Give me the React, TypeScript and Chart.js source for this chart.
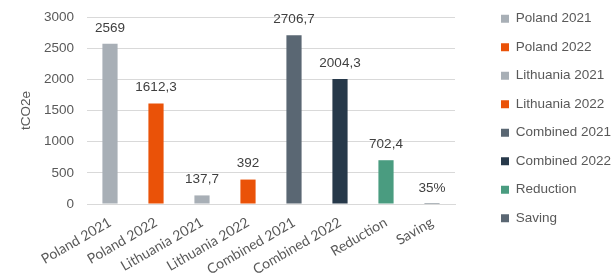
import React, { useEffect, useRef } from "react";
import { Chart, registerables } from "chart.js";

Chart.register(...registerables);

const categories = [
  "Poland 2021",
  "Poland 2022",
  "Lithuania 2021",
  "Lithuania 2022",
  "Combined 2021",
  "Combined 2022",
  "Reduction",
  "Saving",
];
const values = [2569, 1612.3, 137.7, 392, 2706.7, 2004.3, 702.4, 0.35];
const isPercent = [false, false, false, false, false, false, false, true];
const barColors = [
  "#a8afb6",
  "#ea5208",
  "#a8afb6",
  "#ea5208",
  "#5a6773",
  "#27394a",
  "#4a9c80",
  "#5a6773",
];
const yTicks = [0, 500, 1000, 1500, 2000, 2500, 3000];

const FONT = "'Liberation Sans', Arial, sans-serif";
const XFONT = "Lato, 'Open Sans', sans-serif";
const LEGEND_WIDTH = 157;
const LEGEND_LEFT = 486;
const LEGEND_TOP = -3;

const formatValue = (v: number, pct: boolean) =>
  pct ? `${Math.round(v * 100)}%` : String(v).replace(".", ",");

const valueLabelPlugin = {
  id: "valueLabels",
  afterDatasetsDraw(chart: any) {
    const ctx = chart.ctx;
    const meta = chart.getDatasetMeta(0);
    ctx.save();
    ctx.font = `13.5px ${FONT}`;
    ctx.fillStyle = "#404040";
    ctx.textAlign = "center";
    ctx.textBaseline = "middle";
    meta.data.forEach((bar: any, i: number) => {
      ctx.fillText(formatValue(values[i], isPercent[i]), bar.x, bar.y - 16);
    });
    ctx.restore();
  },
};

const legendSpacePlugin = {
  id: "legendSpace",
  beforeUpdate(chart: any) {
    const lg = chart.legend;
    if (lg && !lg._patched) {
      const f = lg.fit;
      lg.fit = function () {
        f.call(this);
        this.width = LEGEND_WIDTH;
      };
      lg._patched = true;
    }
  },
  afterLayout(chart: any) {
    const lg = chart.legend;
    if (lg) {
      const h = lg.bottom - lg.top;
      lg.left = LEGEND_LEFT;
      lg.right = LEGEND_LEFT + LEGEND_WIDTH;
      lg.top = LEGEND_TOP;
      lg.bottom = LEGEND_TOP + h;
    }
  },
};

export default function App() {
  const ref = useRef<HTMLCanvasElement>(null);
  useEffect(() => {
    if (!ref.current) return;
    const chart = new Chart(ref.current, {
      type: "bar",
      data: {
        labels: categories,
        datasets: [
          {
            data: values,
            backgroundColor: barColors,
            barPercentage: 0.33,
            categoryPercentage: 1,
          },
        ],
      },
      options: {
        animation: false,
        responsive: true,
        maintainAspectRatio: false,
        layout: { padding: { top: 17, left: 14, right: 0, bottom: 0 } },
        plugins: {
          tooltip: { enabled: false },
          legend: {
            position: "right",
            align: "start",
            labels: {
              font: { family: FONT, size: 13.5 },
              color: "#595959",
              boxWidth: 8,
              boxHeight: 8,
              padding: 15,
              generateLabels: () =>
                categories.map((c, i) => ({
                  text: c,
                  fillStyle: barColors[i],
                  strokeStyle: barColors[i],
                  lineWidth: 0,
                  hidden: false,
                  index: i,
                  datasetIndex: 0,
                  fontColor: "#595959",
                })),
            },
            onClick: () => {},
          },
        },
        scales: {
          x: {
            grid: { display: false },
            border: { color: "#d9d9d9" },
            afterFit: (scale: any) => {
              scale.height = 73;
            },
            ticks: {
              font: { family: XFONT, size: 14 },
              color: "#595959",
              minRotation: 30,
              maxRotation: 30,
              padding: 2,
            },
          },
          y: {
            min: 0,
            max: 3000,
            afterBuildTicks: (axis: any) => {
              axis.ticks = yTicks.map((v) => ({ value: v }));
            },
            afterFit: (scale: any) => {
              scale.width = 73;
              scale.paddingTop = 0;
            },
            grid: { color: "#d9d9d9", drawTicks: false },
            border: { display: false },
            ticks: {
              font: { family: FONT, size: 13.5 },
              color: "#595959",
              padding: 13,
              callback: (v: any) => String(v),
            },
            title: {
              display: true,
              text: "tCO2e",
              font: { family: FONT, size: 13.5 },
              color: "#595959",
              padding: { top: 4, bottom: 6 },
            },
          },
        },
      },
      plugins: [valueLabelPlugin, legendSpacePlugin],
    });
    return () => chart.destroy();
  }, []);
  return (
    <div style={{ position: "fixed", left: 0, top: 0, width: 612, height: 277, background: "#fff" }}>
      <canvas ref={ref} />
    </div>
  );
}
